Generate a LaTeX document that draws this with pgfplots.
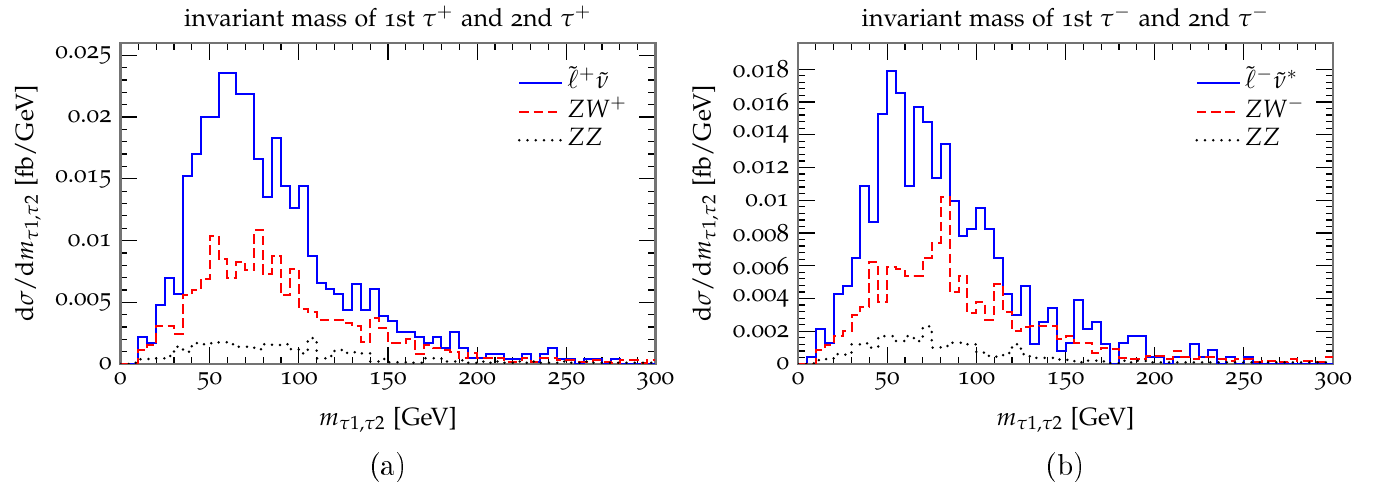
\documentclass[border=0pt]{standalone}
\usepackage[T1]{fontenc}
\usepackage[osf]{mathpazo}
\usepackage{pgfplots}
\usepackage{pgfplotstable}
\pgfplotsset{compat=1.18}

% bins of 5 GeV, value at lower edge; last row closes the histogram at 300
\pgfplotstableread{
m   sl       zw       zz
0   0        0        0
5   0        0        0.0001
10  0.0022   0.00113  0.00038
15  0.00172  0.0015   0.0004
20  0.00476  0.0031   0.00046
25  0.00696  0.0031   0.00065
30  0.00565  0.00247  0.0014
35  0.01524  0.00556  0.001
40  0.01699  0.00602  0.0017
45  0.02003  0.00688  0.0016
50  0.02003  0.0104   0.00168
55  0.02355  0.00852  0.00176
60  0.02355  0.00699  0.0016
65  0.02183  0.00825  0.0014
70  0.02183  0.00758  0.0014
75  0.01659  0.01086  0.0012
80  0.01349  0.00731  0.0016
85  0.01831  0.00871  0.00154
90  0.01438  0.00556  0.0016
95  0.01261  0.00769  0.0012
100 0.01438  0.00449  0.00086
105 0.00871  0.00422  0.0021
110 0.00656  0.00355  0.00046
115 0.0061   0.00355  0.00065
120 0.00565  0.00355  0.00114
125 0.00441  0.0033   0.0009
130 0.0065   0.0031   0.00095
135 0.00441  0.0018   0.00086
140 0.0061   0.00374  0.0002
145 0.0039   0.00288  0.0004
150 0.00347  0.00167  0.00014
155 0.00258  0.00167  0.00014
160 0.00258  0.002    0.0001
165 0.0022   0.0008   0.0001
170 0.00172  0.0015   0.00046
175 0.0022   0.00126  0.00046
180 0.00132  0.0011   0.0002
185 0.00262  0.001    0.0002
190 0.00132  0.00046  0.0003
195 0.0005   0.00086  0.0001
200 0.0005   0.00046  0.0002
205 0.0008   0.00046  0.0001
210 0.0008   0.0005   0.0002
215 0.0004   0.0002   0.0001
220 0.0004   0.0002   0.0002
225 0.0008   0.0005   0.0001
230 0.0002   0.0002   0.0002
235 0.0008   0.0005   0.0001
240 0.0013   0.0005   0.0001
245 0.0004   0.0003   0.0002
250 0.0004   0.0003   0.0001
255 0        0.0002   0.0001
260 0.0004   0.0002   0.0002
265 0.0004   0.0003   0.0001
270 0        0.0002   0.0001
275 0.0004   0.0001   0.0001
280 0        0.0003   0.0001
285 0        0.0003   0.0001
290 0        0.0001   0.0001
295 0        0.0003   0.0001
300 0        0.0003   0.0001
}\plus

\pgfplotstableread{
m   sl       zw       zz
0   0        0        0
5   0.0004   0        0.00004
10  0.00213  0.00086  0.00024
15  0.00127  0.00119  0.0003
20  0.0043   0.00174  0.0006
25  0.00474  0.002    0.00057
30  0.0065   0.003    0.0012
35  0.01088  0.0035   0.00126
40  0.00867  0.0062   0.001
45  0.01524  0.0038   0.0017
50  0.01787  0.0059   0.0017
55  0.01656  0.0058   0.0014
60  0.01088  0.0054   0.0017
65  0.01567  0.0054   0.0014
70  0.0148   0.0065   0.0023
75  0.01133  0.0074   0.001
80  0.01346  0.0102   0.0011
85  0.00998  0.0044   0.0013
90  0.00781  0.0054   0.0013
95  0.00824  0.0031   0.0012
100 0.00955  0.0038   0.0007
105 0.00824  0.0027   0.0005
110 0.0065   0.0049   0.00045
115 0.0043   0.0032   0.00067
120 0.003    0.002    0.0012
125 0.00477  0.00225  0.0006
130 0.00123  0.0023   0.00037
135 0.00256  0.00235  0.00037
140 0.00344  0.00235  0.00037
145 0.00082  0.0015   0.00027
150 0.00127  0.0017   0.00025
155 0.00389  0.00127  0.0001
160 0.00213  0.00127  0.0002
165 0.00256  0.0007   0.0002
170 0.00123  0.001    0.00016
175 0        0.0009   0.00005
180 0.00129  0.00037  0.0002
185 0.0017   0.0003   0.0001
190 0.0017   0.0003   0.0002
195 0.0004   0.0005   0.0001
200 0.0004   0.0005   0.0001
205 0        0.0003   0.0001
210 0.0004   0.0008   0.0001
215 0.0004   0.0004   0.0001
220 0.00125  0.0003   0.0001
225 0.0004   0.0004   0.0001
230 0.00086  0.0004   0.0001
235 0        0.0003   0.0001
240 0.0004   0.0002   0.0001
245 0        0.0003   0.0001
250 0.0004   0.0003   0.0001
255 0        0.0001   0.0001
260 0        0.0002   0.0001
265 0        0.0002   0.0001
270 0        0.0001   0.0001
275 0        0.0003   0.0001
280 0        0.0002   0.0001
285 0        0.0002   0.0001
290 0        0.0001   0.0001
295 0        0.0004   0.0001
300 0        0.0004   0.0001
}\minus

\pgfplotsset{
  every axis title shift=0pt,
  histo/.style={
    scale only axis, width=214pt, height=128.4pt,
    xmin=0, xmax=300, ymin=0,
    xtick={0,50,100,150,200,250,300}, xticklabels={0,50,100,150,200,250,300},
    minor x tick num=4, minor y tick num=4,
    major tick length=6.7pt, minor tick length=2.8pt,
    axis line style={draw=black!55, line width=0.9pt},
    tick style={black, line width=0.5pt},
    scaled y ticks=false,
    xlabel={$m_{\tau1,\tau2}$ [GeV]},
    ylabel={d$\sigma$/d$m_{\tau1,\tau2}$ [fb/GeV]},
    xlabel style={at={(axis description cs:0.5,-0.1745)}, anchor=center},
    ylabel style={at={(axis description cs:-0.173,0.5)}, anchor=center},
    title style={at={(axis description cs:0.5,1.084)}, anchor=center},
    legend style={at={(rel axis cs:0.742,0.917)}, anchor=north west, draw=none, fill=none,
      inner sep=0pt, row sep=0.9pt,
      nodes={inner xsep=1.6pt, inner ysep=1pt, text height=6.5pt, text depth=2pt}},
    legend cell align=left,
  },
  sl/.style={const plot mark left, no marks, blue, line width=0.8pt},
  zw/.style={const plot mark left, no marks, red, line width=0.8pt, dash pattern=on 3.8pt off 1.9pt},
  zz/.style={const plot mark left, no marks, black, line width=1.1pt, line cap=round, dash pattern=on 0pt off 3.3pt},
}

\begin{document}
\begin{tikzpicture}
\path[use as bounding box] (-48.2pt,-50pt) rectangle (501.8pt,145.6pt);

\begin{axis}[histo, at={(0pt,0pt)}, anchor=south west,
  ymax=0.026,
  ytick={0,0.005,0.01,0.015,0.02,0.025}, yticklabels={0,0.005,0.01,0.015,0.02,0.025},
  title={invariant mass of 1st $\tau^+$ and 2nd $\tau^+$},
]
\addplot[sl] table[x=m, y=sl] {\plus};
\addlegendentry{$\tilde{\ell}^+\tilde{\nu}$}
\addplot[zw] table[x=m, y=zw] {\plus};
\addlegendentry{$ZW^+$}
\addplot[zz] table[x=m, y=zz] {\plus};
\addlegendentry{$ZZ$}
\end{axis}

\begin{axis}[histo, at={(271pt,0pt)}, anchor=south west,
  ymax=0.0196,
  ytick={0,0.002,0.004,0.006,0.008,0.01,0.012,0.014,0.016,0.018},
  yticklabels={0,0.002,0.004,0.006,0.008,0.01,0.012,0.014,0.016,0.018},
  title={invariant mass of 1st $\tau^-$ and 2nd $\tau^-$},
]
\addplot[sl] table[x=m, y=sl] {\minus};
\addlegendentry{$\tilde{\ell}^-\tilde{\nu}^*$}
\addplot[zw] table[x=m, y=zw] {\minus};
\addlegendentry{$ZW^-$}
\addplot[zz] table[x=m, y=zz] {\minus};
\addlegendentry{$ZZ$}
\end{axis}

\node[font=\fontfamily{cmr}\fontsize{12.5}{15}\selectfont] at (107pt,-41.2pt) {(a)};
\node[font=\fontfamily{cmr}\fontsize{12.5}{15}\selectfont] at (378pt,-41.2pt) {(b)};
\end{tikzpicture}
\end{document}
